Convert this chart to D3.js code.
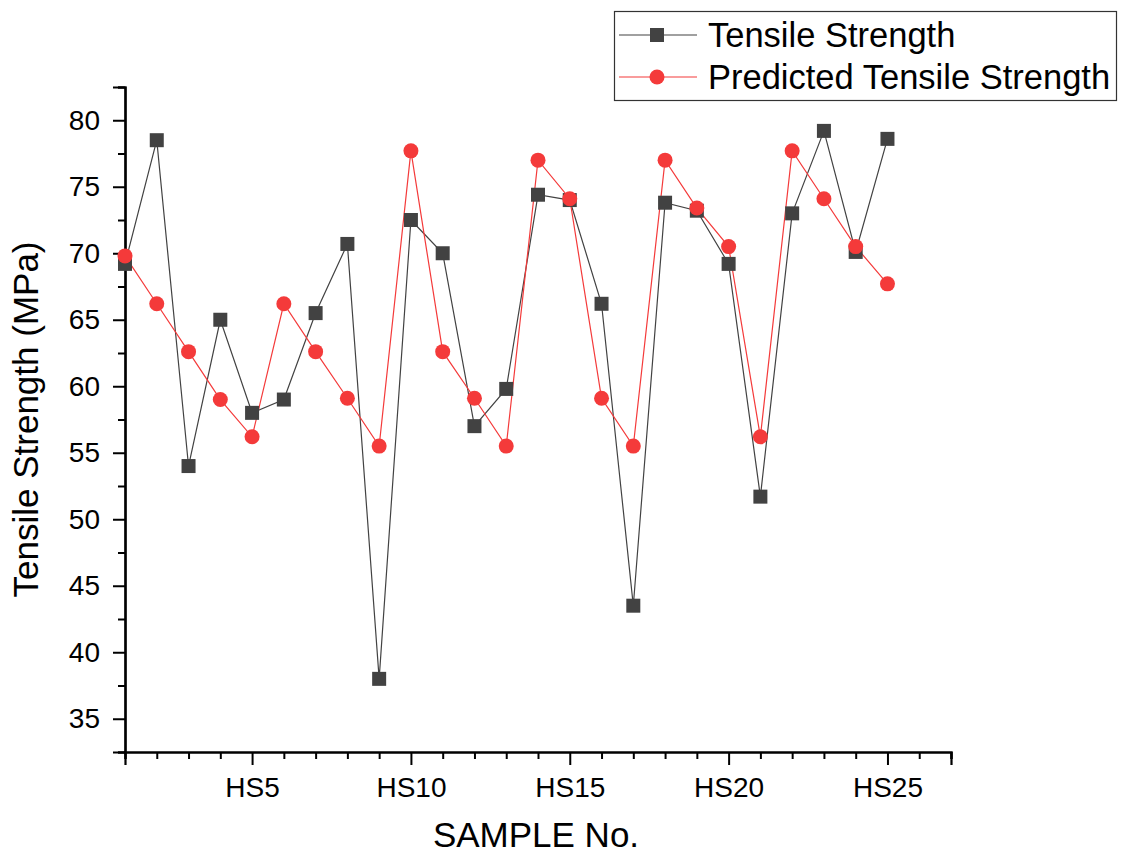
<!DOCTYPE html>
<html>
<head>
<meta charset="utf-8">
<script src="https://cdn.jsdelivr.net/npm/d3@7"></script>
<style>
  html, body { margin: 0; padding: 0; background: #ffffff; }
  svg { display: block; font-family: "Liberation Sans", Arial, sans-serif; }
</style>
</head>
<body>
<svg id="chart" width="1122" height="853"></svg>
<script>
const samples = d3.range(1, 26).map(i => "HS" + i);
const tensileStrength = [69.2, 78.5, 54.0, 65.0, 58.0, 59.0, 65.5, 70.7, 38.0, 72.5,
                         70.0, 57.0, 59.8, 74.4, 74.0, 66.2, 43.5, 73.8, 73.2, 69.2,
                         51.7, 73.0, 79.2, 70.1, 78.6];
const predictedStrength = [69.8, 66.2, 62.6, 59.0, 56.2, 66.2, 62.6, 59.1, 55.5, 77.7,
                           62.6, 59.1, 55.5, 77.0, 74.1, 59.1, 55.5, 77.0, 73.4, 70.5,
                           56.2, 77.7, 74.1, 70.5, 67.7];
const yTicks = [35, 40, 45, 50, 55, 60, 65, 70, 75, 80];
const xMajorTicks = [5, 10, 15, 20, 25];
const seriesNames = ["Tensile Strength", "Predicted Tensile Strength"];

const svg = d3.select("#chart");
const mLeft = 125, mRight = 951, mTop = 87, mBottom = 752;

const x = d3.scaleLinear().domain([1, 27]).range([mLeft, mRight]);
const y = d3.scaleLinear().domain([32.5, 82.5]).range([mBottom, mTop]);

const black = "#424242", red = "#f43a3a";

// Axes
const yAxisMajor = d3.axisLeft(y).tickValues(yTicks).tickSize(12).tickPadding(13).tickFormat(d3.format("d"));
const yAxisMinor = d3.axisLeft(y).tickValues(d3.range(32.5, 82.6, 5)).tickSize(7).tickFormat("");
const xAxisMajor = d3.axisBottom(x).tickValues(xMajorTicks).tickSize(13).tickPadding(12).tickFormat(d => "HS" + d);
const xAxisMinor = d3.axisBottom(x).tickValues(d3.range(1, 28).filter(d => d % 5 !== 0)).tickSize(7).tickFormat("");

function styleAxis(g) {
  g.select(".domain").attr("stroke", "#000").attr("stroke-width", 2.2);
  g.selectAll(".tick line").attr("stroke", "#000").attr("stroke-width", 2);
  g.selectAll(".tick text").attr("fill", "#000").style("font-size", "28px");
}

svg.append("g").attr("transform", `translate(${mLeft},0)`).call(yAxisMinor).call(styleAxis);
svg.append("g").attr("transform", `translate(${mLeft},0)`).call(yAxisMajor).call(styleAxis);
svg.append("g").attr("transform", `translate(0,${mBottom})`).call(xAxisMinor).call(styleAxis);
svg.append("g").attr("transform", `translate(0,${mBottom})`).call(xAxisMajor).call(styleAxis);

// Axis titles
svg.append("text")
  .attr("transform", `translate(38,${(mTop + mBottom) / 2}) rotate(-90)`)
  .attr("text-anchor", "middle")
  .style("font-size", "35px")
  .text("Tensile Strength (MPa)");
svg.append("text")
  .attr("x", 536).attr("y", 847)
  .attr("text-anchor", "middle")
  .style("font-size", "35px")
  .text("SAMPLE No.");

// Lines
const line = d3.line().x((d, i) => x(i + 1)).y(d => y(d));
svg.append("path").datum(tensileStrength).attr("d", line)
  .attr("fill", "none").attr("stroke", black).attr("stroke-width", 1.2);
svg.append("path").datum(predictedStrength).attr("d", line)
  .attr("fill", "none").attr("stroke", red).attr("stroke-width", 1.2);

// Markers
const sq = 14;
svg.append("g").selectAll("rect").data(tensileStrength).join("rect")
  .attr("x", (d, i) => x(i + 1) - sq / 2).attr("y", d => y(d) - sq / 2)
  .attr("width", sq).attr("height", sq)
  .attr("fill", black);
svg.append("g").selectAll("circle").data(predictedStrength).join("circle")
  .attr("cx", (d, i) => x(i + 1)).attr("cy", d => y(d)).attr("r", 7.5)
  .attr("fill", red);

// Legend
const lg = svg.append("g");
lg.append("rect").attr("x", 614.5).attr("y", 11.5).attr("width", 502).attr("height", 89)
  .attr("fill", "#fff").attr("stroke", "#333").attr("stroke-width", 1.2);
const rows = [
  {name: seriesNames[0], color: black, cy: 35, base: 47, shape: "square"},
  {name: seriesNames[1], color: red, cy: 77, base: 89, shape: "circle"}
];
rows.forEach(r => {
  lg.append("line").attr("x1", 619).attr("x2", 697).attr("y1", r.cy).attr("y2", r.cy)
    .attr("stroke", r.color).attr("stroke-width", 1.2);
  if (r.shape === "square") {
    lg.append("rect").attr("x", 657 - sq / 2).attr("y", r.cy - sq / 2).attr("width", sq).attr("height", sq).attr("fill", r.color);
  } else {
    lg.append("circle").attr("cx", 657).attr("cy", r.cy).attr("r", 7.5).attr("fill", r.color);
  }
  lg.append("text").attr("x", 708).attr("y", r.base).style("font-size", "34.5px").text(r.name);
});
</script>
</body>
</html>
